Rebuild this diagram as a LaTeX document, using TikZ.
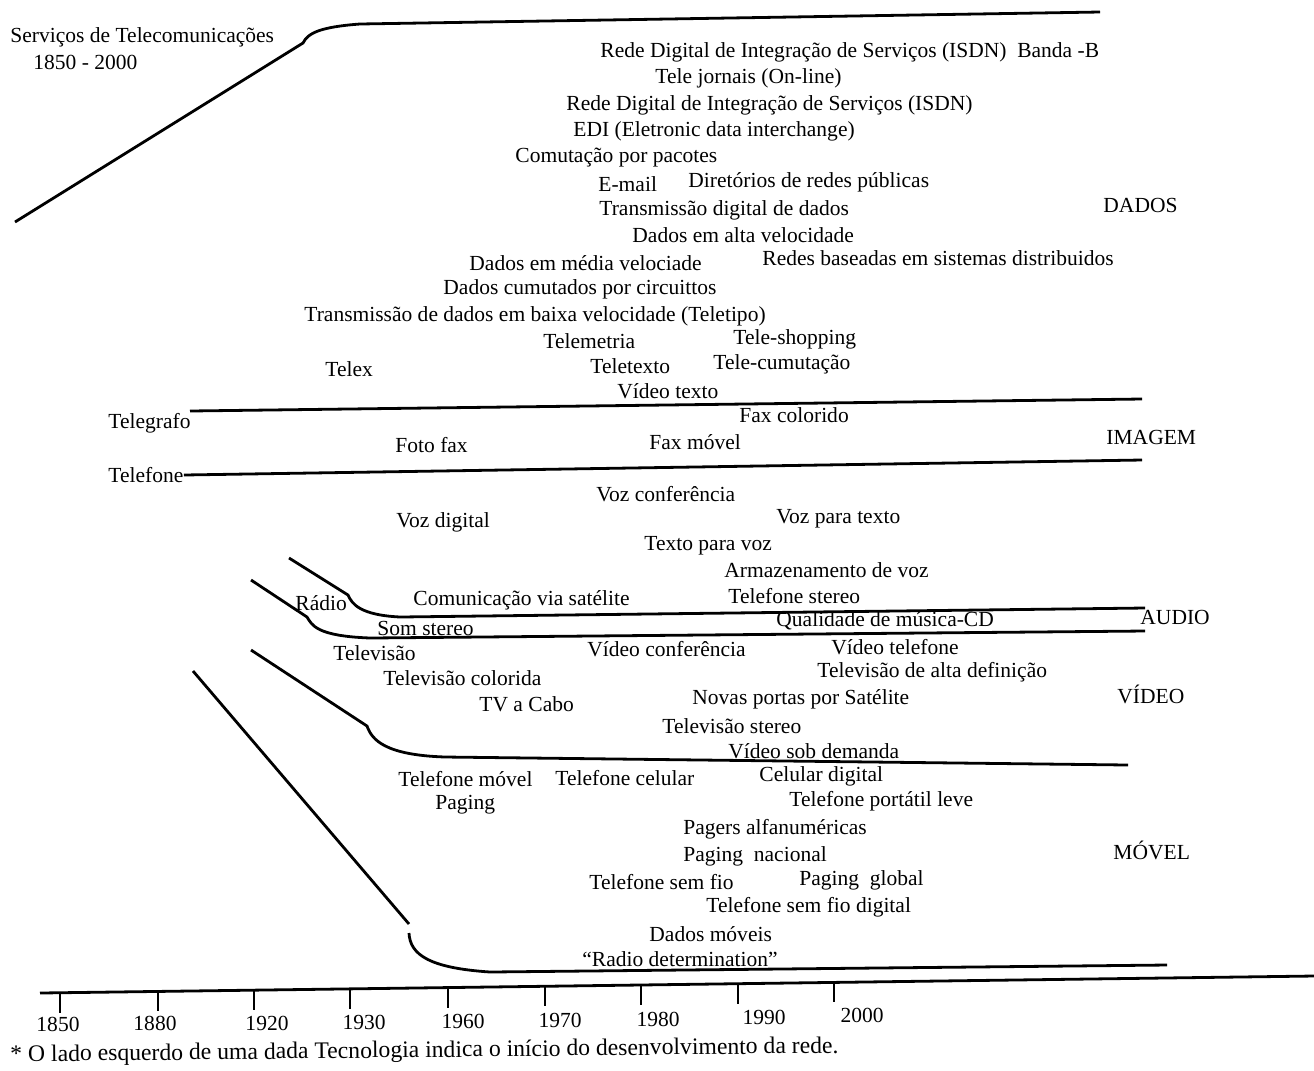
\documentclass[tikz,border=0pt]{standalone}
\usepackage{fontspec}
\setmainfont{Liberation Serif}
\usepackage{tikz}

\begin{document}
\begin{tikzpicture}[x=0.465pt,y=-0.465pt,
        band/.style={line width=1.3pt},
        lbl/.style={anchor=west,inner sep=0pt,font=\fontsize{10}{12}\selectfont}]
            \useasboundingbox (0,0) rectangle (1314,1070);
            \node[lbl] (titulo) at (10,37) {Serviços de Telecomunicações};
            \node[lbl] (periodo) at (33,62) {1850 - 2000};
            % faixas
            \draw[band] (15,222) -- (303,43) .. controls (308,33) and (320,27) .. (360,24) -- (1100,12);
            \draw[band] (190,411) -- (1142,399);
            \node[lbl] (telegrafo) at (108,423) {Telegrafo};
            \node[lbl] (telefone) at (108,475) {Telefone};
            \draw[band] (telefone.east) -- (1142,460);
            \draw[band] (289,558) -- (348,595) .. controls (352,604) and (360,615) .. (400,617) -- (1145,608);
            \draw[band] (251,580) -- (307,617) .. controls (312,625) and (316,636) .. (370,638) -- (1145,631);
            \draw[band] (251,650) -- (367,726) .. controls (372,740) and (385,755) .. (445,757) -- (1128,765);
            \draw[band] (193,671) -- (409,924);
            \draw[band] (409,933) .. controls (410,955) and (430,968) .. (490,972) -- (1167,965);
            % eixo
            \draw[band] (40,993) -- (1314,976);
            \foreach \x/\yr/\lx/\ly in {60/1850/58/1024, 158/1880/155/1023, 254/1920/267/1023,
                    350/1930/364/1022, 448/1960/463/1021, 545/1970/560/1020,
                    641/1980/658/1019, 738/1990/764/1017, 834/2000/862/1015}{
                \draw[line width=0.9pt] (\x,{993-0.01334*(\x-40)}) -- ++(0,20);
                \node[font=\fontsize{10}{12}\selectfont,inner sep=0pt] (ano\yr) at (\lx,\ly) {\yr};
            }
            \node[lbl,font=\fontsize{11}{13}\selectfont,rotate=0.6] (nota) at (10,1056)
                {* O lado esquerdo de uma dada Tecnologia indica o início do desenvolvimento da rede.};
            % dados
            \node[lbl] (isdnb) at (600,52) {Rede Digital de Integração de Serviços (ISDN)\ \ Banda -B};
            \node[lbl] (jornais) at (655,78) {Tele jornais (On-line)};
            \node[lbl] (isdn) at (566,105) {Rede Digital de Integração de Serviços (ISDN)};
            \node[lbl] (edi) at (573,131) {EDI (Eletronic data interchange)};
            \node[lbl] (pacotes) at (515,158) {Comutação por pacotes};
            \node[lbl] (email) at (598,184) {E-mail};
            \node[lbl] (diretorios) at (688,182) {Diretórios de redes públicas};
            \node[lbl] (transdig) at (599,210) {Transmissão digital de dados};
            \node[lbl] (altavel) at (632,235) {Dados em alta velocidade};
            \node[lbl] (mediavel) at (469,263) {Dados em média velociade};
            \node[lbl] (redesdist) at (762,258) {Redes baseadas em sistemas distribuidos};
            \node[lbl] (circuitos) at (443,289) {Dados cumutados por circuittos};
            \node[lbl] (baixavel) at (304,316) {Transmissão de dados em baixa velocidade (Teletipo)};
            \node[lbl] (telemetria) at (543,341) {Telemetria};
            \node[lbl] (teleshop) at (733,339) {Tele-shopping};
            \node[lbl] (telex) at (325,369) {Telex};
            \node[lbl] (teletexto) at (590,366) {Teletexto};
            \node[lbl] (telecumut) at (713,364) {Tele-cumutação};
            \node[lbl] (videotexto) at (617,391) {Vídeo texto};
            \node[lbl] (dados) at (1103,205) {DADOS};
            % imagem
            \node[lbl] (faxcor) at (739,415) {Fax colorido};
            \node[lbl] (fotofax) at (395,445) {Foto fax};
            \node[lbl] (faxmovel) at (649,442) {Fax móvel};
            \node[lbl] (imagem) at (1106,437) {IMAGEM};
            % voz e audio
            \node[lbl] (vozconf) at (596,494) {Voz conferência};
            \node[lbl] (vozdig) at (396,522) {Voz digital};
            \node[lbl] (voztexto) at (776,519) {Voz para texto};
            \node[lbl] (textovoz) at (644,546) {Texto para voz};
            \node[lbl] (armazen) at (724,570) {Armazenamento de voz};
            \node[lbl] (telstereo) at (728,596) {Telefone stereo};
            \node[lbl] (satelite) at (413,600) {Comunicação via satélite};
            \node[lbl] (radio) at (295,603) {Rádio};
            \node[lbl] (somstereo) at (377,628) {Som stereo};
            \node[lbl] (musicacd) at (776,621) {Qualidade de música-CD};
            \node[lbl] (audio) at (1140,617) {AUDIO};
            % video
            \node[lbl] (televisao) at (333,653) {Televisão};
            \node[lbl] (videoconf) at (587,649) {Vídeo conferência};
            \node[lbl] (videotel) at (831,647) {Vídeo telefone};
            \node[lbl] (tvcor) at (383,678) {Televisão colorida};
            \node[lbl] (tvhd) at (817,672) {Televisão de alta definição};
            \node[lbl] (tvcabo) at (479,704) {TV a Cabo};
            \node[lbl] (satportas) at (692,699) {Novas portas por Satélite};
            \node[lbl] (tvstereo) at (662,726) {Televisão stereo};
            \node[lbl] (videodem) at (728,751) {Vídeo sob demanda};
            \node[lbl] (video) at (1117,694) {VÍDEO};
            % movel
            \node[lbl] (telmovel) at (398,779) {Telefone móvel};
            \node[lbl] (telcel) at (555,778) {Telefone celular};
            \node[lbl] (celdig) at (759,776) {Celular digital};
            \node[lbl] (paging) at (435,805) {Paging};
            \node[lbl] (portatil) at (789,801) {Telefone portátil leve};
            \node[lbl] (pagersalfa) at (683,829) {Pagers alfanuméricas};
            \node[lbl] (pagingnac) at (683,856) {Paging\ \ nacional};
            \node[lbl] (semfio) at (589,882) {Telefone sem fio};
            \node[lbl] (paginglob) at (799,880) {Paging\ \ global};
            \node[lbl] (semfiodig) at (706,907) {Telefone sem fio digital};
            \node[lbl] (dadosmov) at (649,934) {Dados móveis};
            \node[lbl] (radiodet) at (582,959) {``Radio determination''};
            \node[lbl] (movel) at (1113,850) {MÓVEL};
\end{tikzpicture}
\end{document}
